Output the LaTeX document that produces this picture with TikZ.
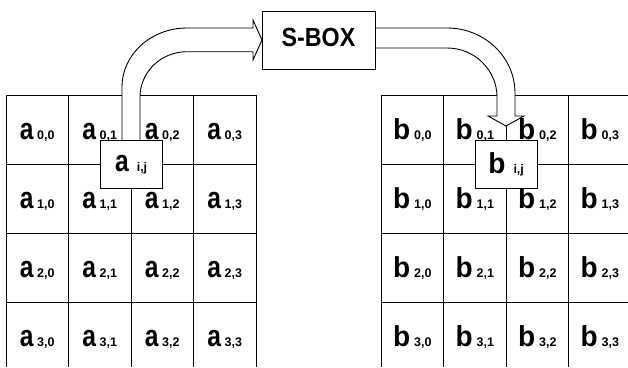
\documentclass[tikz,border=0pt]{standalone}
\usepackage{fontspec}
\setmainfont{Liberation Sans}
\usepackage{graphicx}

% letter + index, set on one baseline
\newcommand\mainsym[1]{{\fontsize{28}{28}\selectfont\bfseries #1}}
\newcommand\idxtxt[1]{{\fontsize{12.5}{12.5}\selectfont\bfseries #1}}
\newcommand\asym{\scalebox{0.88}[1.08]{\mainsym{a}}}
\newcommand\bsym{\scalebox{1}[1.03]{\mainsym{b}}}

\tikzset{
  gridline/.style={draw=black, line width=0.9pt},
  celltext/.style={inner sep=0pt, anchor=base},
  blockarrow/.style={draw=black, fill=white, line width=0.9pt, line join=miter},
  elembox/.style={draw=black, fill=white, line width=0.9pt, inner sep=0pt,
    minimum width=62.3pt, minimum height=48.3pt},
}

\begin{document}
\begin{tikzpicture}[x=1pt, y=-1pt]
\useasboundingbox (0,0) rectangle (628,367);

% ---- state grids ----
\foreach \gx/\gr in {6/256, 381/628} {
  \draw[gridline] (\gx,367) -- (\gx,95) -- (\gr,95);
  \foreach \ry in {164.2, 233.3, 302.5}
    \draw[gridline] (\gx,\ry) -- (\gr,\ry);
}
\draw[gridline] (256,95) -- (256,367);
\foreach \vx in {68.5, 131, 193.5, 443.5, 506, 568.5}
  \draw[gridline] (\vx,95) -- (\vx,367);

% ---- cell labels ----
\foreach \r in {0,...,3} {
  \foreach \c in {0,...,3} {
    \pgfmathsetmacro\ax{37.25 + 62.5*\c}
    \pgfmathsetmacro\bx{412.25 + 62.5*\c}
    \pgfmathsetmacro\ty{95 + 69.17*\r + 34.6 + 9.5}
    \node[celltext] (a\r\c) at (\ax,\ty) {\asym\hspace{3.5pt}\idxtxt{\r,\c}};
    \node[celltext] (b\r\c) at (\bx,\ty) {\bsym\hspace{4pt}\idxtxt{\r,\c}};
  }
}

% ---- curved block arrows ----
\draw[blockarrow] (122,150) -- (122,87)
  .. controls (122,54.4) and (151.1,28) .. (187,28)
  -- (253,28) -- (253,20) -- (262,40) -- (253,60) -- (253,51.7) -- (187,51.7)
  .. controls (161,51.7) and (140,72) .. (140,97)
  -- (140,150) -- cycle;

\draw[blockarrow] (370,28) -- (447,28)
  .. controls (484.5,28) and (515,57.1) .. (515,93)
  -- (515,116) -- (524,116) -- (506,126) -- (488,116) -- (497,116) -- (497,97)
  .. controls (497,70) and (474.6,48) .. (447,48)
  -- (370,48) -- cycle;

% ---- boxes ----
\node[draw=black, fill=white, line width=0.9pt, inner sep=0pt,
      minimum width=113pt, minimum height=58pt,
      text height=18pt, text depth=5pt] (sbox) at (318.5,40)
  {\scalebox{0.93}[1.05]{\fontsize{25}{25}\selectfont\bfseries S-BOX}};

\node[elembox, text height=15pt, text depth=0pt] (aij) at (131.15,164.15)
  {\asym\hspace{8pt}\idxtxt{i,j}};
\node[elembox, text height=20pt, text depth=2pt] (bij) at (506.15,164.15)
  {\bsym\hspace{8pt}\idxtxt{i,j}};

\end{tikzpicture}
\end{document}
